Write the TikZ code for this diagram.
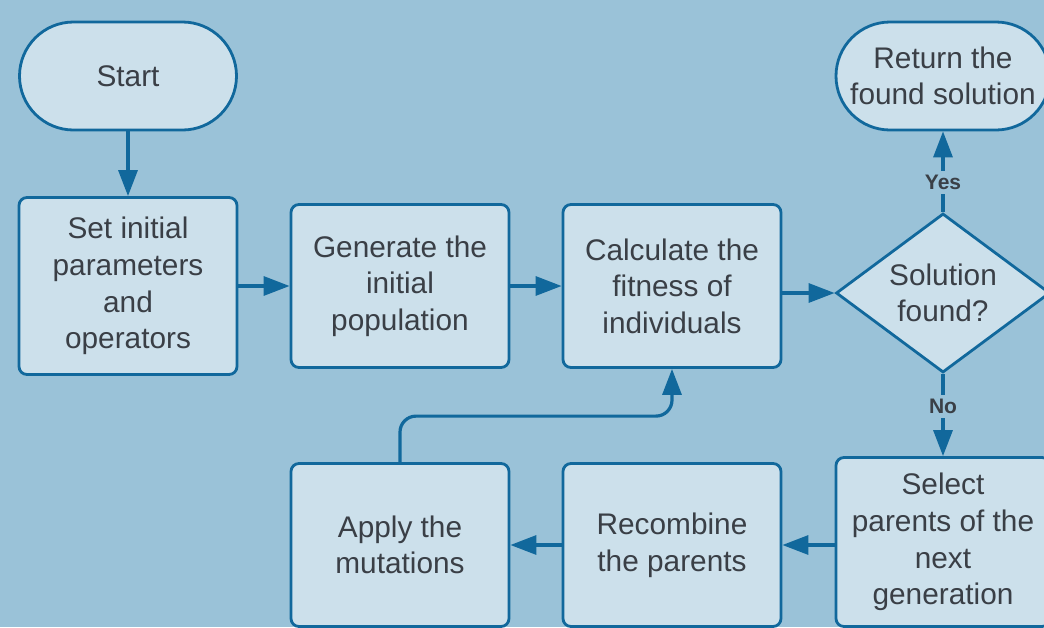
\documentclass[tikz,border=0pt]{standalone}
\usepackage{fontspec}
\setmainfont{Liberation Sans}
\usetikzlibrary{arrows.meta, positioning, shapes.geometric}
\definecolor{bgblue}{HTML}{9AC2D8}
\definecolor{boxfill}{HTML}{CCE0EB}
\definecolor{edgeblue}{HTML}{11689C}
\definecolor{inkgray}{HTML}{3A3F46}
\tikzset{
  base/.style={draw=edgeblue, line width=1.4pt, fill=boxfill, text=inkgray, align=center, font=\fontsize{14.9}{18.3}\selectfont},
  process/.style={base, rectangle, rounded corners=4pt, minimum width=109pt, minimum height=81.5pt, inner sep=2pt},
  terminal/.style={base, rectangle, rounded corners=27pt, minimum width=108.5pt, minimum height=54pt},
  decision/.style={base, diamond, aspect=1.35, inner sep=0pt, minimum width=107pt, minimum height=79.5pt},
  flow/.style={draw=edgeblue, line width=1.6pt, -{Triangle[length=13pt,width=9.5pt]}},
  answer/.style={fill=bgblue, text=inkgray, font=\fontsize{10.5}{12}\selectfont\bfseries, inner sep=2pt}
}

\begin{document}
\begin{tikzpicture}[x=0.5pt, y=-0.5pt]
  \useasboundingbox (0,0) rectangle (1044,627);
  \clip (0,0) rectangle (1044,627);
  \fill[bgblue] (0,0) rectangle (1044,627);
  % top row
  \node[terminal] (start) at (128,76) {Start};
  \node[process, minimum height=88.5pt] (setp) at (128,286) {Set initial\\parameters\\and\\operators};
  \node[process] (gen) at (400,286) {Generate the\\initial\\population};
  \node[process] (fit) at (672,286) {Calculate the\\fitness of\\individuals};
  \node[decision] (sol) at (943,293) {Solution\\found?};
  \node[terminal, minimum width=107pt] (ret) at (943,76) {Return the\\found solution};
  % bottom row
  \node[process, minimum width=107pt, minimum height=84.5pt] (sel) at (943,542) {Select\\parents of the\\next\\generation};
  \node[process] (reco) at (672,545) {Recombine\\the parents};
  \node[process] (apply) at (400,545) {Apply the\\mutations};
  % connectors
  \draw[flow] (start) -- (setp);
  \draw[flow] (setp) -- (gen);
  \draw[flow] (gen) -- (fit);
  \draw[flow] (fit.east |- sol) -- (sol.west);
  \draw[flow] (sol.north) -- node[answer, pos=0.37] {Yes} (ret);
  \draw[flow] (sol.south) -- node[answer, pos=0.4] {No} (sel);
  \draw[flow] (sel.west |- reco) -- (reco);
  \draw[flow] (reco) -- (apply);
  \draw[flow, rounded corners=8pt] (apply.north) -- ++(0,-46) -| (fit.south);
\end{tikzpicture}
\end{document}
